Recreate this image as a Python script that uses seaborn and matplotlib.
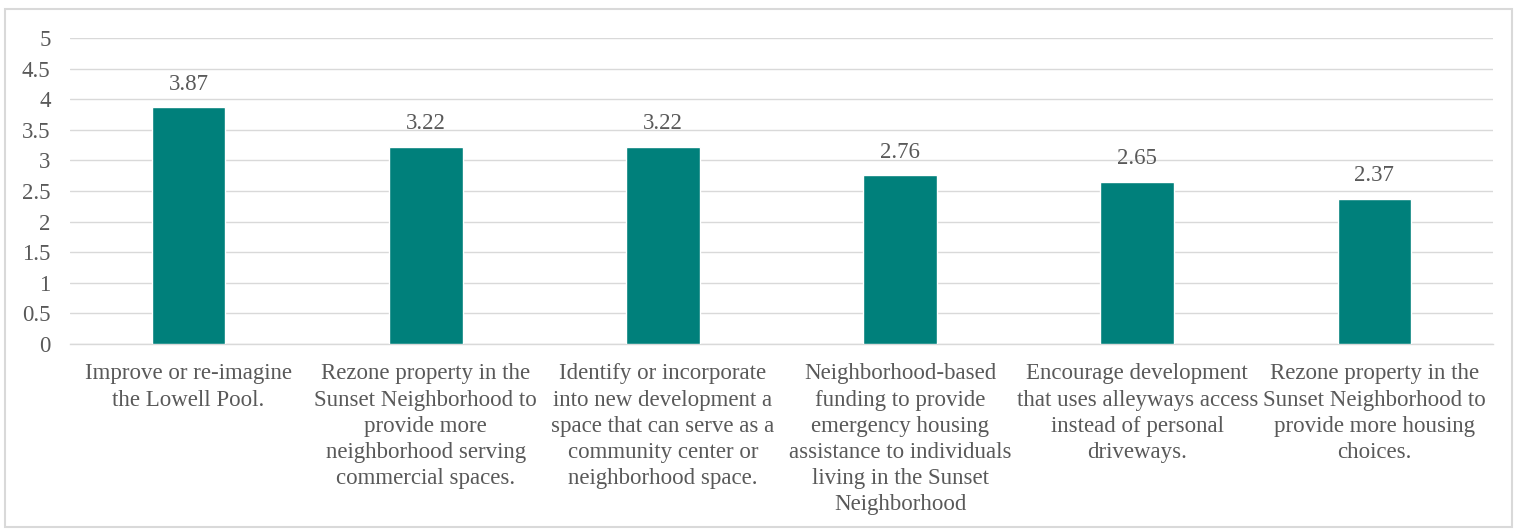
import pandas as pd
import matplotlib
matplotlib.use("Agg")
import matplotlib.pyplot as plt
import seaborn as sns
from matplotlib.patches import Rectangle

categories = [
    "Improve or re-imagine\nthe Lowell Pool.",
    "Rezone property in the\nSunset Neighborhood to\nprovide more\nneighborhood serving\ncommercial spaces.",
    "Identify or incorporate\ninto new development a\nspace that can serve as a\ncommunity center or\nneighborhood space.",
    "Neighborhood-based\nfunding to provide\nemergency housing\nassistance to individuals\nliving in the Sunset\nNeighborhood",
    "Encourage development\nthat uses alleyways access\ninstead of personal\ndriveways.",
    "Rezone property in the\nSunset Neighborhood to\nprovide more housing\nchoices.",
]
scores = [3.87, 3.22, 3.22, 2.76, 2.65, 2.37]
y_ticks = [0, 0.5, 1, 1.5, 2, 2.5, 3, 3.5, 4, 4.5, 5]
y_tick_labels = ["0", "0.5", "1", "1.5", "2", "2.5", "3", "3.5", "4", "4.5", "5"]

df = pd.DataFrame({"item": categories, "score": scores})

sns.set_theme(style="white")
plt.rcParams["font.family"] = ["Liberation Serif", "DejaVu Serif"]

text_color = "#595959"
bar_color = "#00807B"
grid_color = "#D9D9D9"

fig = plt.figure(figsize=(15.2, 5.31), dpi=100)
ax = fig.add_axes([70 / 1520, 1 - 344 / 531, (1493 - 70) / 1520, (344 - 38) / 531])

sns.barplot(data=df, x="item", y="score", color=bar_color, width=0.31,
            saturation=1, ax=ax, zorder=3)

ax.set_ylim(0, 5)
ax.set_yticks(y_ticks)
ax.set_yticklabels(y_tick_labels, fontsize=16.5, color=text_color)
ax.tick_params(axis="y", length=0, pad=14)
ax.tick_params(axis="x", length=0, pad=14)
for lab in ax.get_xticklabels():
    lab.set_fontsize(16.5)
    lab.set_color(text_color)
    lab.set_linespacing(1.32)
ax.set_xlabel("")
ax.set_ylabel("")
ax.grid(axis="y", color=grid_color, linewidth=1, zorder=0)
for s in ["top", "right", "left"]:
    ax.spines[s].set_visible(False)
ax.spines["bottom"].set_color(grid_color)
ax.spines["bottom"].set_linewidth(1)

for c in ax.containers:
    ax.bar_label(c, labels=[f"{v:.2f}" for v in c.datavalues], padding=9,
                 fontsize=16.5, color=text_color)

fig.patches.append(Rectangle((5 / 1520, 4 / 531), 1507 / 1520, 518 / 531,
                             transform=fig.transFigure, fill=False,
                             edgecolor=grid_color, linewidth=1.5))

fig.savefig("out.png", dpi=100)
